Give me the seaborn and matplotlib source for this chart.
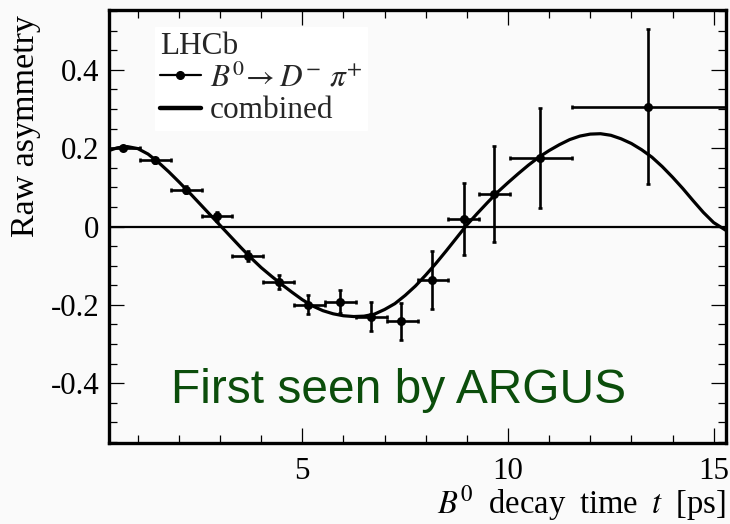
import matplotlib
matplotlib.use("Agg")
import matplotlib.pyplot as plt
import seaborn as sns
import pandas as pd
import numpy as np
from matplotlib.ticker import MultipleLocator, FixedLocator, FixedFormatter
from matplotlib.lines import Line2D

# ---- data ----
t_pts = [0.65, 1.41, 2.18, 2.92, 3.67, 4.43, 5.15, 5.91, 6.67, 7.41, 8.16, 8.92, 9.67, 10.78, 13.40]
a_pts = [0.200, 0.169, 0.094, 0.026, -0.076, -0.142, -0.200, -0.192, -0.230, -0.242,
         -0.137, 0.019, 0.083, 0.174, 0.306]
a_err = [0.005, 0.007, 0.009, 0.011, 0.013, 0.017, 0.024, 0.030, 0.036, 0.047,
         0.074, 0.091, 0.122, 0.128, 0.198]
bin_lo = [0.3, 1.05, 1.8, 2.55, 3.3, 4.05, 4.8, 5.55, 6.3, 7.05, 7.8, 8.55, 9.3, 10.05, 11.55]
bin_hi = [1.05, 1.8, 2.55, 3.3, 4.05, 4.8, 5.55, 6.3, 7.05, 7.8, 8.55, 9.3, 10.05, 11.55, 15.3]

t_fit = [0.30, 0.50, 0.75, 1.00, 1.25, 1.50, 1.75, 2.00, 2.25, 2.50, 2.75, 3.00, 3.25,
         3.50, 3.75, 4.00, 4.25, 4.50, 4.75, 5.00, 5.25, 5.50, 5.75, 6.00, 6.25, 6.50,
         6.75, 7.00, 7.25, 7.50, 7.75, 8.00, 8.25, 8.50, 8.75, 9.00, 9.25, 9.50, 9.75,
         10.00, 10.25, 10.50, 10.75, 11.00, 11.25, 11.50, 11.75, 12.00, 12.25, 12.50,
         12.75, 13.00, 13.25, 13.50, 13.75, 14.00, 14.25, 14.50, 14.75, 15.00, 15.30]
a_fit = [0.194, 0.201, 0.204, 0.199, 0.185, 0.164, 0.140, 0.114, 0.087, 0.059, 0.031,
         0.003, -0.025, -0.053, -0.080, -0.105, -0.127, -0.148, -0.168, -0.187, -0.203,
         -0.215, -0.223, -0.228, -0.230, -0.229, -0.224, -0.212, -0.197, -0.176, -0.152,
         -0.124, -0.094, -0.062, -0.029, 0.004, 0.033, 0.061, 0.088, 0.112, 0.135, 0.157,
         0.177, 0.194, 0.209, 0.222, 0.231, 0.236, 0.237, 0.233, 0.224, 0.212, 0.196,
         0.177, 0.153, 0.126, 0.097, 0.066, 0.036, 0.010, -0.010]

y_ticks = [-0.4, -0.2, 0.0, 0.2, 0.4]
y_labels = ["-0.4", "-0.2", "0", "0.2", "0.4"]
x_ticks = [5, 10, 15]
x_labels = ["5", "10", "15"]

# ---- style ----
sns.set_theme(style="ticks")
plt.rcParams["font.family"] = ["Liberation Serif", "DejaVu Serif"]
plt.rcParams["mathtext.fontset"] = "stix"
plt.rcParams["axes.unicode_minus"] = False

bg = "#fafafa"
fig = plt.figure(figsize=(7.30, 5.24), dpi=100, facecolor=bg)
ax = fig.add_axes([109 / 730, 1 - 443 / 524, (726 - 109) / 730, (443 - 10) / 524])
ax.set_facecolor(bg)

ax.axhline(0, color="black", lw=1.6, zorder=1)

fit_df = pd.DataFrame({"t": t_fit, "a": a_fit})
sns.lineplot(data=fit_df, x="t", y="a", ax=ax, color="black", lw=2.3, zorder=2,
             estimator=None, sort=False)

t_arr = np.array(t_pts)
xerr = [t_arr - np.array(bin_lo), np.array(bin_hi) - t_arr]
ax.errorbar(t_pts, a_pts, xerr=xerr, yerr=a_err, fmt="none", ecolor="black",
            elinewidth=1.9, capsize=1.6, capthick=1.9, zorder=3)
pts_df = pd.DataFrame({"t": t_pts, "a": a_pts})
sns.scatterplot(data=pts_df, x="t", y="a", ax=ax, color="black", s=42, zorder=4,
                edgecolor="black", linewidth=0)

ax.set_xlim(0.3, 15.3)
ax.set_ylim(-0.553, 0.553)

ax.xaxis.set_major_locator(FixedLocator(x_ticks))
ax.xaxis.set_major_formatter(FixedFormatter(x_labels))
ax.xaxis.set_minor_locator(MultipleLocator(1))
ax.yaxis.set_major_locator(FixedLocator(y_ticks))
ax.yaxis.set_major_formatter(FixedFormatter(y_labels))
ax.yaxis.set_minor_locator(MultipleLocator(0.05))

ax.tick_params(which="both", direction="in", top=True, right=True, width=0.9,
               color="black", labelsize=22.3, pad=7, labelcolor="black")
ax.tick_params(which="major", length=10.5)
ax.tick_params(which="minor", length=5.5)
ax.tick_params(axis="x", pad=10)
for s in ax.spines.values():
    s.set_linewidth(2.4)
    s.set_color("black")

sp = " \u2009"
ax.set_xlabel(r"$B^{\mathit{0}}$" + sp + "decay" + sp + "time" + sp + r"$t$" + sp + "[ps]",
              fontsize=23.5, color="black", loc="right", labelpad=-2)
ax.set_ylabel("Raw asymmetry", fontsize=24.5, color="black", loc="center")
ax.yaxis.set_label_coords(-0.110, 0.732)

ax.text(0.47, 0.122, "First seen by ARGUS", transform=ax.transAxes, ha="center",
        va="center", fontsize=34.5, color="#0b4d0b", family="Liberation Sans")

handles = [
    Line2D([], [], color="black", marker="o", ms=5.5, lw=1.6),
    Line2D([], [], color="black", lw=3.2),
]
leg = ax.legend(handles, [r"$B^{\mathit{0}}\!\rightarrow D^{-}\ \pi^{+}$", "combined"],
                title="LHCb", loc="upper left", bbox_to_anchor=(0.075, 0.96),
                fontsize=22.5, title_fontsize=22.5, frameon=True, fancybox=False,
                handlelength=1.3, handletextpad=0.3, borderpad=0.15,
                labelspacing=0.1, borderaxespad=0)
leg._legend_box.align = "left"
leg.get_frame().set_facecolor("white")
leg.get_frame().set_edgecolor("white")
leg.get_frame().set_alpha(1)

fig.savefig("out.png", dpi=100, facecolor=bg)
